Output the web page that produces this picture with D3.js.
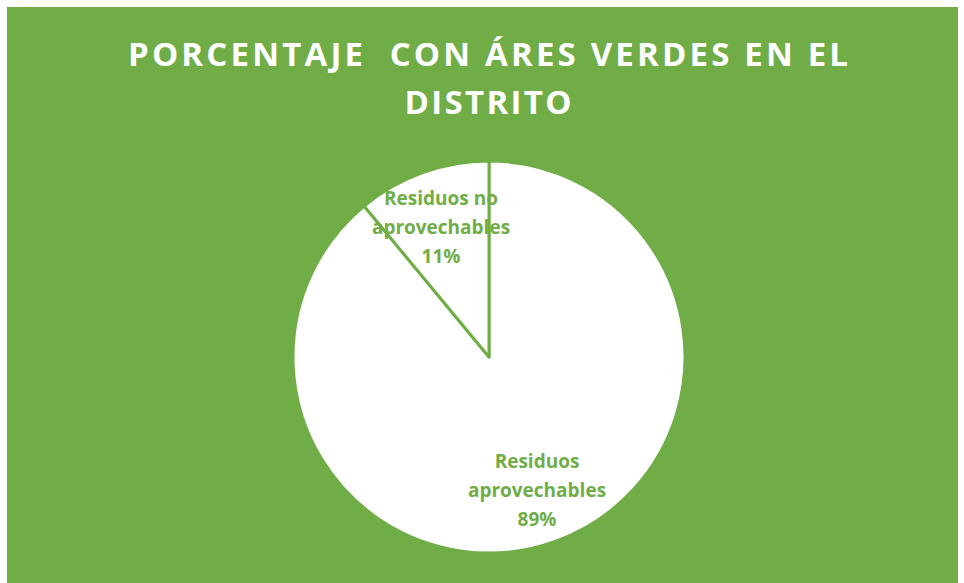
<!DOCTYPE html>
<html><head><meta charset="utf-8">
<script src="https://cdn.jsdelivr.net/npm/d3@7"></script>
<style>html,body{margin:0;padding:0;background:#fff;}</style>
</head><body>
<svg id="c" width="964" height="583"></svg>
<script>
const categories = ["Residuos aprovechables", "Residuos no aprovechables"];
const values = [89, 11];
const labelLines = [["Residuos", "aprovechables", "89%"], ["Residuos no", "aprovechables", "11%"]];
const titleLines = ["PORCENTAJE  CON ÁRES VERDES EN EL", "DISTRITO"];

const green = "#70AD47";
const svg = d3.select("#c");
svg.append("rect").attr("x", 7).attr("y", 7).attr("width", 951).attr("height", 576).attr("fill", green);

const title = svg.append("text").attr("fill", "#fff").attr("font-family", "Open Sans, sans-serif")
  .attr("font-weight", 700).attr("font-size", 33).attr("text-anchor", "middle");
title.append("tspan").attr("x", 488).attr("y", 66).attr("textLength", 720).attr("lengthAdjust", "spacing")
  .style("white-space", "pre").text(titleLines[0]);
title.append("tspan").attr("x", 488).attr("y", 114).attr("textLength", 167).attr("lengthAdjust", "spacing").text(titleLines[1]);

const cx = 489, cy = 357, r = 196;
const pie = d3.pie().sort(null).value(d => d)(values);
const arc = d3.arc().innerRadius(0).outerRadius(r);
const g = svg.append("g").attr("transform", `translate(${cx},${cy})`);
g.selectAll("path").data(pie).join("path").attr("d", arc).attr("fill", "#fff")
  .attr("stroke", green).attr("stroke-width", 3).attr("stroke-linejoin", "round");

const labelPos = [[48, 111], [-48, -152]];
pie.forEach((p, i) => {
  const t = g.append("text").attr("fill", green).attr("font-family", "Open Sans, sans-serif")
    .attr("font-weight", 700).attr("font-size", 19).attr("text-anchor", "middle");
  labelLines[i].forEach((s, j) => {
    t.append("tspan").attr("x", labelPos[i][0]).attr("y", labelPos[i][1] + j * 29).text(s);
  });
});
</script>
</body></html>
